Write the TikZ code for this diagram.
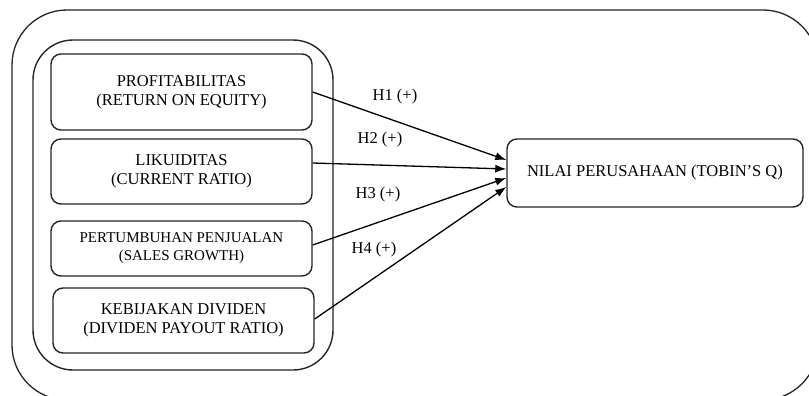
\documentclass[tikz,border=0pt]{standalone}
\usepackage{fontspec}
\setmainfont{Liberation Serif}
\usetikzlibrary{arrows.meta,calc}
\begin{document}
\begin{tikzpicture}[x=1pt,y=-1pt,
  box/.style={draw=black!85,line width=1.4pt,rounded corners=10pt,align=center,
    font=\fontsize{16.5}{19}\selectfont,inner sep=0pt,minimum width=261pt},
  sbox/.style={box,font=\fontsize{15}{18}\selectfont},
  lbl/.style={font=\fontsize{16.5}{19}\selectfont,inner sep=0pt},
  arr/.style={draw=black,line width=1.3pt,-{Latex[length=11pt,width=8pt]}}]
\useasboundingbox (0,0) rectangle (809,396);
\clip (0,0) rectangle (809,396);
\fill[white] (0,0) rectangle (809,396);
% outer frame
\draw[line width=1.3pt,black!85,rounded corners=55pt] (12,10) rectangle (818,400);
% group frame
\draw[line width=1.4pt,black!85,rounded corners=40pt] (33,40) rectangle (333,370);
% boxes
\node[box,minimum height=76pt] (b1) at (181.5,92) {PROFITABILITAS\\(RETURN ON EQUITY)};
\node[box,minimum height=65pt] (b2) at (181.5,171.5) {LIKUIDITAS\\(CURRENT RATIO)};
\node[sbox,minimum height=55pt] (b3) at (181.5,248.5) {PERTUMBUHAN PENJUALAN\\(SALES GROWTH)};
\node[box,minimum height=65pt] (b4) at (183.5,320.5) {KEBIJAKAN DIVIDEN\\(DIVIDEN PAYOUT RATIO)};
\node[box,minimum width=296pt,minimum height=68pt] (t) at (655,173) {NILAI PERUSAHAAN (TOBIN'S Q)};
% arrows
\draw[arr] (b1.east) -- ($(t.west)+(0,-13)$);
\draw[arr] ($(b2.east)+(0,-8.5)$) -- ($(t.west)+(0,-4)$);
\draw[arr] ($(b3.east)+(0,-3.5)$) -- ($(t.west)+(0,5)$);
\draw[arr] ($(b4.east)+(0,-1.5)$) -- ($(t.west)+(0,14)$);
% labels
\node[lbl] (h1) at (395,97) {H1 (+)};
\node[lbl] (h2) at (380,140) {H2 (+)};
\node[lbl] (h3) at (378,195) {H3 (+)};
\node[lbl] (h4) at (374,250) {H4 (+)};
\end{tikzpicture}
\end{document}
